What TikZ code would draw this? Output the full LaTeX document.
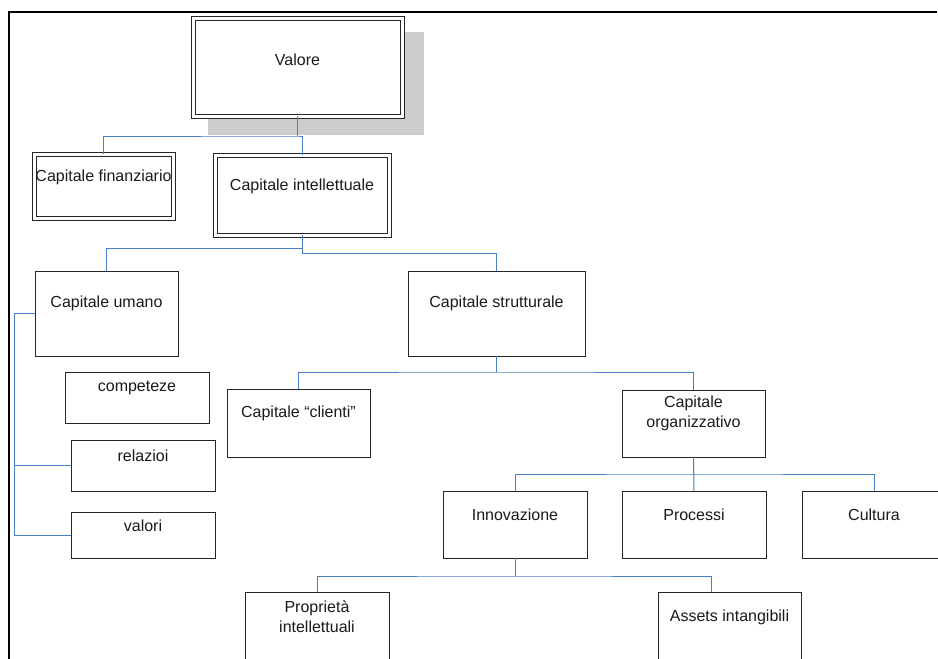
\documentclass[tikz,border=0pt]{standalone}
\usepackage{fontspec}
\setmainfont{Liberation Sans}
\usetikzlibrary{calc}
\definecolor{boxc}{HTML}{262626}
\definecolor{connc}{HTML}{4A7EC8}
\definecolor{shadowc}{HTML}{CCCCCC}
\definecolor{txtc}{HTML}{1A1A1A}
\begin{document}
\begin{tikzpicture}[x=1pt,y=-1pt,
  box/.style={draw=boxc,line width=1pt,fill=white,inner sep=0pt,outer sep=0pt},
  dbox/.style={box,double=white,double distance=3pt},
  lbl/.style={inner sep=0pt,text=txtc,align=center,font=\fontsize{16}{20}\selectfont},
  conn/.style={draw=connc,line width=1pt},
  frame/.style={draw=black,line width=1.8pt}]
\useasboundingbox (0,0) rectangle (938,659);
\fill[white] (0,0) rectangle (938,659);
% frame
\coordinate (fa) at (9,12);
\coordinate (fb) at (937,12);
\coordinate (fc) at (9,662);
\draw[frame] (fc) -- (fa) -- (fb);
% shadow
\fill[shadowc] (208,32) rectangle (424,135);
% boxes
\node[dbox,minimum width=209pt,minimum height=98pt] (v) at (297.5,67) {};
\node[dbox,minimum width=139pt,minimum height=64pt] (cf) at (103.5,186) {};
\node[dbox,minimum width=174pt,minimum height=80pt] (ci) at (302,195) {};
\node[box,minimum width=143pt,minimum height=85pt] (cu) at (106.5,313.5) {};
\node[box,minimum width=177pt,minimum height=85pt] (cs) at (496.5,313.5) {};
\node[box,minimum width=144pt,minimum height=51pt] (comp) at (137,397.5) {};
\node[box,minimum width=144pt,minimum height=51pt] (rel) at (143,465.5) {};
\node[box,minimum width=144pt,minimum height=46pt] (val) at (143,535) {};
\node[box,minimum width=143pt,minimum height=68pt] (cc) at (298.5,423) {};
\node[box,minimum width=143pt,minimum height=67pt] (co) at (693.5,423.5) {};
\node[box,minimum width=144pt,minimum height=67pt] (inn) at (515,524.5) {};
\node[box,minimum width=144pt,minimum height=67pt] (pro) at (694,524.5) {};
\node[box,minimum width=144pt,minimum height=67pt] (cul) at (874,524.5) {};
\node[box,minimum width=144pt,minimum height=108pt] (pi) at (317,646) {};
\node[box,minimum width=143pt,minimum height=108pt] (ai) at (729.5,646) {};
% labels
\node[lbl] (tv) at ($(v.north)+(0,42)$) {Valore};
\node[lbl] (tcf) at ($(cf.north)+(0,23)$) {Capitale finanziario};
\node[lbl] (tci) at ($(ci.north)+(0,31)$) {Capitale intellettuale};
\node[lbl] (tcu) at ($(cu.north)+(0,32)$) {Capitale umano};
\node[lbl] (tcs) at ($(cs.north)+(0,32)$) {Capitale strutturale};
\node[lbl] (tcomp) at ($(comp.north)+(0,16)$) {competeze};
\node[lbl] (trel) at ($(rel.north)+(0,16)$) {relazioi};
\node[lbl] (tval) at ($(val.north)+(0,14)$) {valori};
\node[lbl] (tcc) at ($(cc.north)+(0,24)$) {Capitale “clienti”};
\node[lbl] (tco) at ($(co.north)+(0,23)$) {Capitale\\organizzativo};
\node[lbl] (tinn) at ($(inn.north)+(0,24)$) {Innovazione};
\node[lbl] (tpro) at ($(pro.north)+(0,24)$) {Processi};
\node[lbl] (tcul) at ($(cul.north)+(0,24)$) {Cultura};
\node[lbl] (tpi) at ($(pi.north)+(0,25)$) {Proprietà\\intellettuali};
\node[lbl] (tai) at ($(ai.north)+(0,25)$) {Assets intangibili};
% connectors
\draw[conn] (v.south) -- ++(0,20) coordinate (j1);
\draw[conn] (cf.north) |- (j1) -| (ci.north);
\draw[conn] (ci.south) -- ++(0,18) coordinate (j2);
\coordinate (j2b) at ($(ci.south)+(0,13)$);
\draw[conn] (cu.north) |- (j2b);
\draw[conn] (j2) -| (cs.north);
\draw[conn] (cs.south) -- ++(0,16) coordinate (j3);
\draw[conn] (cc.north) |- (j3) -| (co.north);
\draw[conn] (co.south) -- (pro.north);
\coordinate (j4) at ($(co.south)+(0,17)$);
\draw[conn] (inn.north) |- (j4) -| (cul.north);
\draw[conn] (inn.south) -- ++(0,18) coordinate (j6);
\coordinate (aitop) at ($(ai.north)+(-18.5,0)$);
\draw[conn] (pi.north) |- (j6) -| (aitop);
\draw[conn] (cu.west) -- ++(-21,0) coordinate (j5) |- (val.west);
\draw[conn] (rel.west) -- (j5 |- rel.west);
\end{tikzpicture}
\end{document}
